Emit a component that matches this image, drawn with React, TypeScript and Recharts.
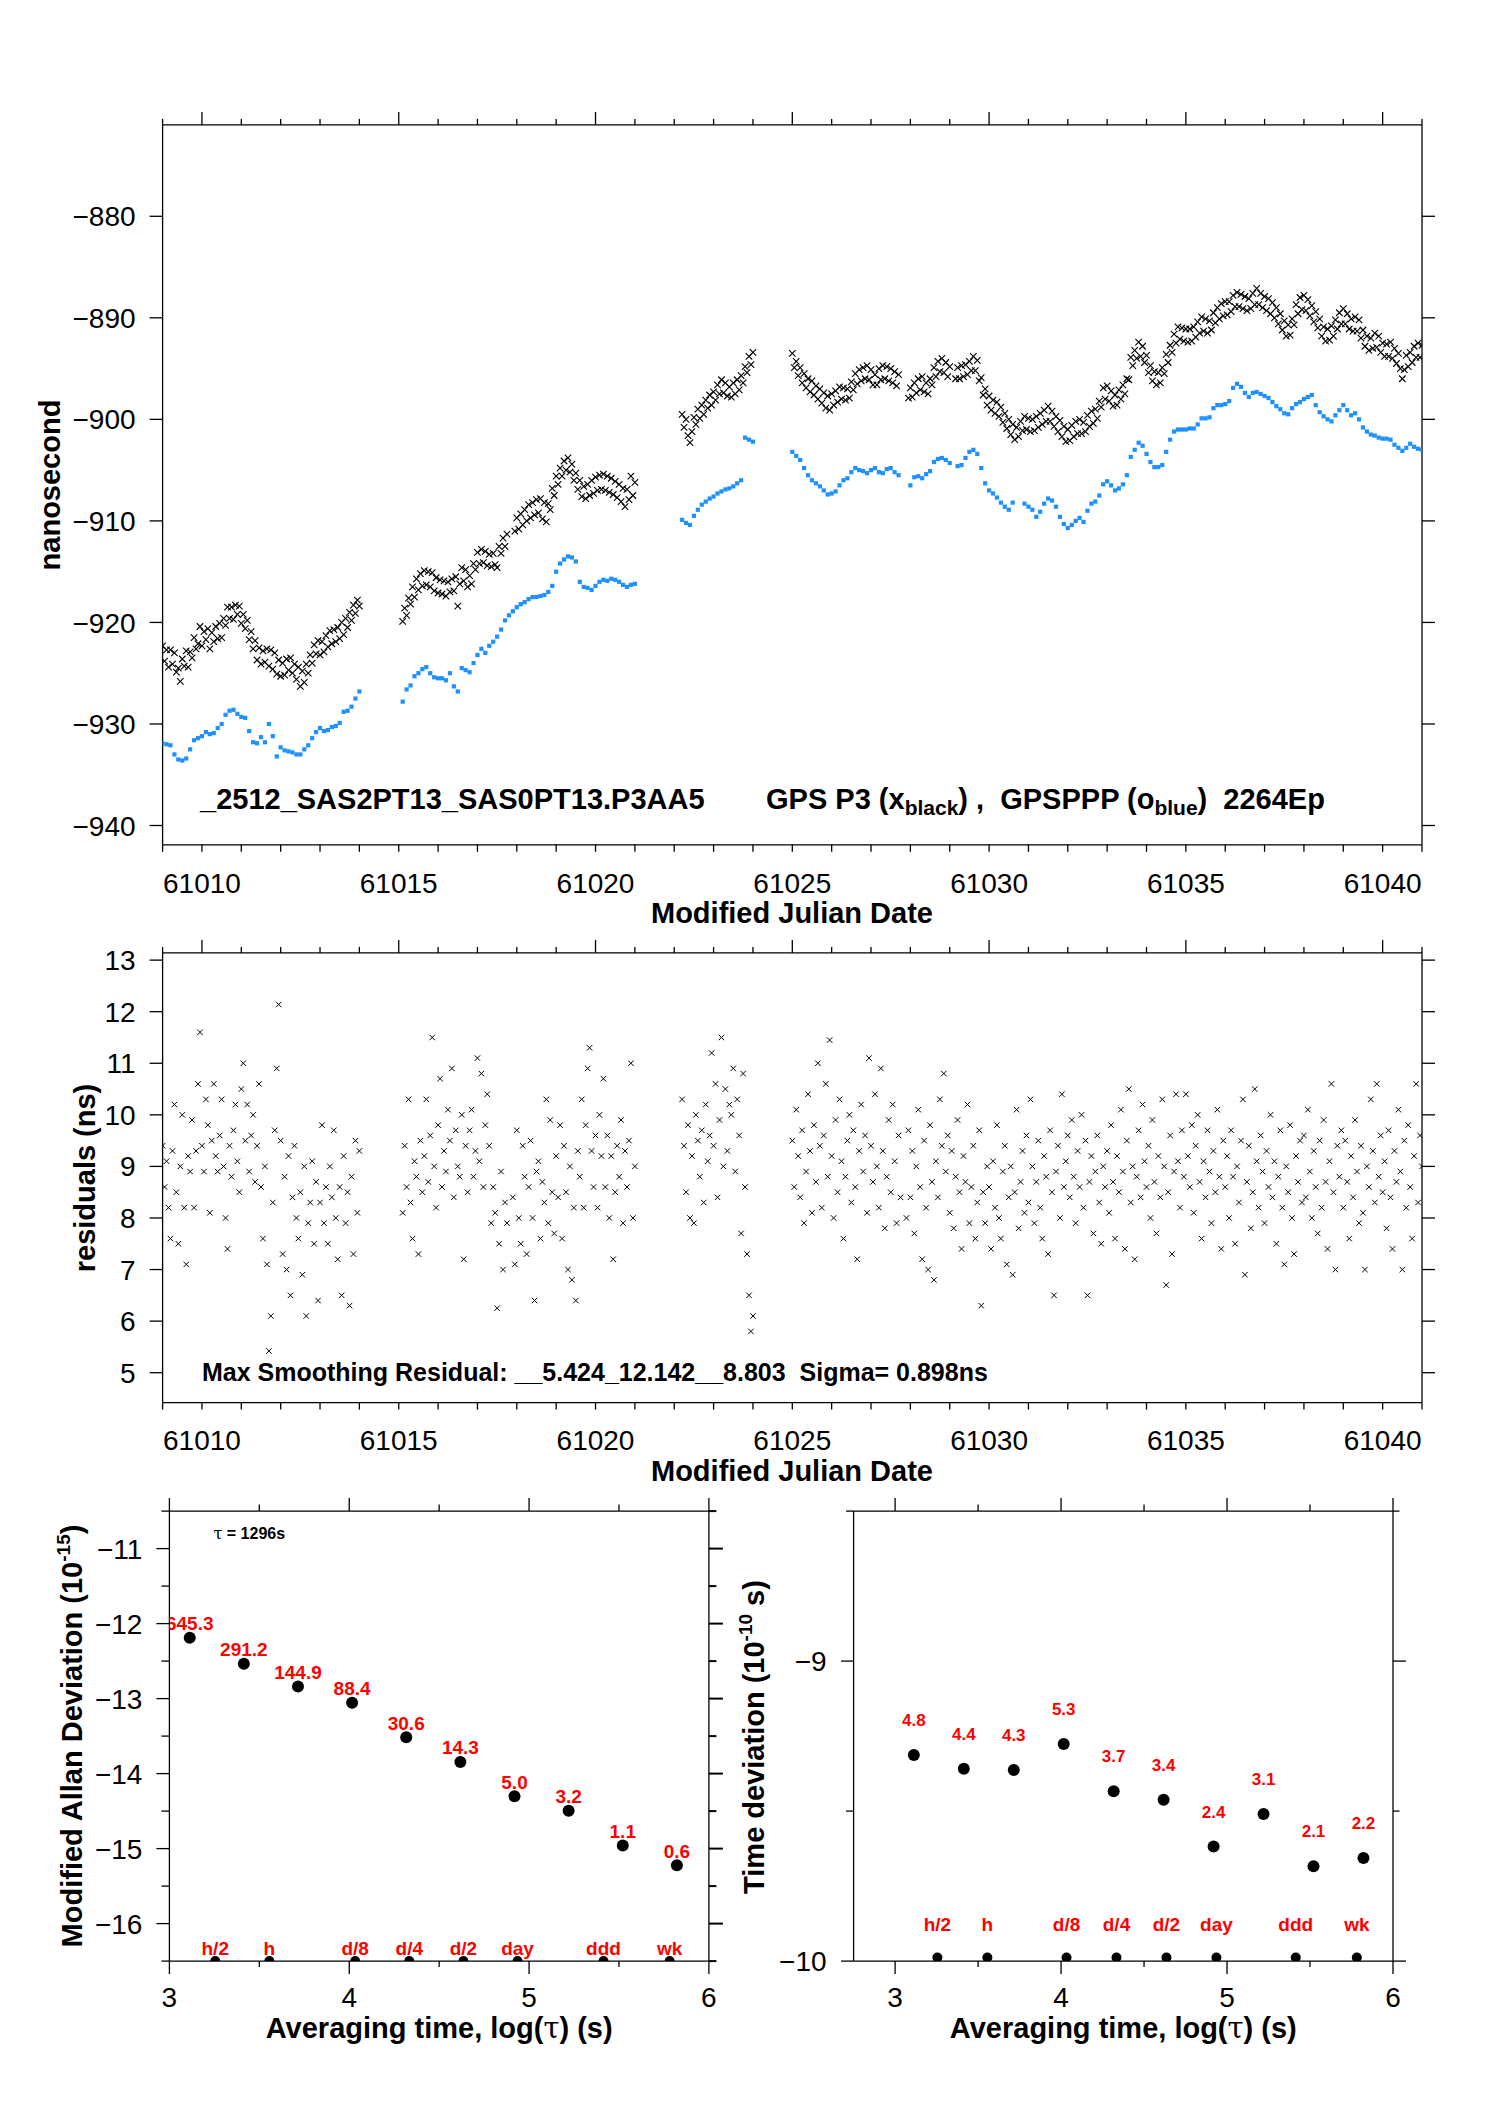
import React from 'react';
import { ScatterChart, Scatter, XAxis, YAxis, Customized } from 'recharts';

const FONT = '"Liberation Sans", Arial, Helvetica, sans-serif';
const MINUS = '\u2212';
const BLUE = '#1e90ff';
const RED = '#ff0000';

// ---------------- axis ticks ----------------
const mjdTicks = [61009,61010,61011,61012,61013,61014,61015,61016,61017,61018,61019,61020,61021,61022,61023,61024,61025,61026,61027,61028,61029,61030,61031,61032,61033,61034,61035,61036,61037,61038,61039,61040,61041];
const mjdMajorTicks = [61010,61015,61020,61025,61030,61035,61040];
const nsTicks = [-940,-930,-920,-910,-900,-890,-880];
const residTicks = [5,6,7,8,9,10,11,12,13];
const tauTicks = [3,3.5,4,4.5,5,5.5,6];
const tauMajorTicks = [3,4,5,6];
const mdevTicks = [-16.5,-16,-15.5,-15,-14.5,-14,-13.5,-13,-12.5,-12,-11.5,-11,-10.5];
const mdevMajorTicks = [-16,-15,-14,-13,-12,-11];
const tdevTicks = [-10,-9.5,-9,-8.5];
const tdevMajorTicks = [-10,-9];

// ---------------- time series (segments on the sampling grid) ----------------
const segStarts = [61009.0, 61015.1, 61022.2, 61025.0];
const blueStep = 0.1;
const blueA = [-931.9,-932.0,-932.1,-933.0,-933.5,-933.6,-933.4,-932.5,-931.6,-931.4,
-931.2,-930.8,-931.0,-930.9,-930.4,-930.0,-929.1,-928.7,-928.6,-929.0,
-929.3,-929.4,-930.7,-931.8,-931.9,-931.3,-931.8,-930.0,-931.2,-933.2,
-932.3,-932.6,-932.7,-932.8,-933.0,-933.0,-932.5,-932.1,-931.4,-930.8,
-930.4,-930.7,-930.6,-930.3,-930.2,-929.9,-928.8,-928.7,-928.3,-927.5,
-926.8];
const blueB = [-927.8,-926.6,-926.2,-925.3,-925.0,-924.6,-924.4,-925.0,-925.4,
-925.5,-925.5,-925.7,-925.0,-926.3,-926.8,-924.5,-924.7,-924.9,-924.0,
-923.2,-922.6,-923.0,-922.3,-921.9,-921.4,-920.7,-919.8,-919.3,-918.9,
-918.5,-918.2,-918.0,-917.7,-917.5,-917.5,-917.4,-917.3,-917.0,-916.4,
-915.0,-914.2,-913.8,-913.5,-913.6,-914.0,-916.0,-916.5,-916.6,-916.8,
-916.4,-916.0,-915.8,-915.9,-915.7,-915.8,-916.0,-916.3,-916.5,-916.3,
-916.2];
const blueC = [-909.9,-910.2,-910.4,-909.5,-908.9,-908.4,-908.1,-907.8,-907.6,-907.3,-907.1,-906.9,-906.8,-906.6,-906.3,-906.0,-901.8,-902.0,-902.2];
const blueD = [-903.2,-903.6,-904.0,-904.8,-905.5,-906.0,-906.3,-906.6,-907.0,-907.4,
-907.3,-907.1,-906.5,-906.0,-905.8,-905.2,-904.8,-905.0,-905.1,-905.3,
-905.0,-904.8,-905.2,-905.3,-904.9,-904.8,-905.2,-905.5,null,null,
-906.5,-905.7,-905.6,-905.8,-905.4,-905.1,-904.2,-903.9,-903.8,-904.0,
-904.3,null,-904.6,-904.5,-903.8,-903.2,-903.0,-903.4,-904.8,-906.3,
-907.0,-907.3,-907.7,-908.2,-908.6,-908.9,-908.2,null,null,-908.3,
-908.6,-908.9,-909.6,-909.1,-908.3,-907.8,-908.0,-908.6,-909.6,-910.3,
-910.7,-910.4,-910.0,-909.7,-910.1,-909.0,-908.3,-908.1,-907.5,-906.4,
-906.1,-906.5,-907.0,-906.8,-906.4,-905.5,-903.7,-903.0,-902.3,-902.6,
-903.4,-904.2,-904.7,-904.7,-904.5,-903.2,-902.0,-901.2,-901.0,-901.0,
-901.0,-900.9,-900.9,-900.5,-899.9,-899.9,-899.8,-898.9,-898.6,-898.6,
-898.5,-898.2,-896.9,-896.5,-896.8,-897.4,-897.8,-897.4,-897.3,-897.5,
-897.7,-897.9,-898.3,-898.7,-899.0,-899.4,-899.5,-898.9,-898.5,-898.3,
-898.0,-897.8,-897.6,-898.6,-899.3,-899.7,-900.0,-900.2,-899.6,-899.1,
-898.6,-899.1,-899.6,-899.4,-900.0,-900.8,-901.2,-901.5,-901.6,-901.8,
-901.9,-901.9,-902.0,-902.5,-902.8,-903.1,-902.8,-902.4,-902.7,-902.9,
-903.0];

const blackStep = 0.05;
const blackA = [-922.3,-923.8,-922.7,-924.4,-922.7,-924.1,-923.0,-924.9,-924.5,-925.8,
-923.6,-924.3,-922.8,-924.4,-922.9,-923.5,-921.5,-922.6,-922.1,-920.4,
-922.3,-920.9,-921.7,-920.6,-922.6,-921.0,-921.9,-920.4,-921.6,-920.1,
-921.5,-919.6,-920.3,-918.5,-919.6,-918.5,-919.7,-918.3,-919.2,-918.4,
-920.1,-919.2,-920.6,-919.8,-921.7,-920.9,-922.6,-921.8,-923.7,-922.5,
-924.1,-922.8,-923.9,-922.6,-924.3,-922.7,-924.6,-923.0,-925.1,-923.7,
-925.3,-924.0,-925.2,-923.6,-924.7,-923.5,-925.0,-924.1,-925.6,-924.4,
-926.3,-924.8,-925.9,-924.1,-925.0,-923.2,-924.0,-922.2,-923.1,-921.8,
-923.2,-921.9,-922.9,-921.3,-922.4,-920.8,-922.1,-920.7,-921.9,-920.5,
-921.6,-920.0,-921.2,-919.6,-920.5,-919.0,-919.8,-918.3,-919.1,-917.8,
-918.4];
const blackB = [-919.9,-918.6,-919.3,-917.6,-918.2,-916.5,-917.5,-915.7,-916.8,-915.2,
-916.4,-914.9,-916.3,-915.0,-916.5,-915.1,-916.9,-915.6,-917.1,-915.8,
-917.2,-915.9,-917.4,-916.0,-917.0,-915.7,-916.9,-915.5,-918.4,-916.2,
-914.6,-915.9,-914.8,-916.5,-915.4,-916.2,-914.2,-914.8,-913.1,-914.2,
-912.8,-914.1,-913.0,-914.4,-913.3,-914.5,-913.2,-914.3,-914.6,-912.5,
-913.2,-911.7,-912.5,-911.3,null,null,null,-911.0,-909.7,-910.8,
-909.3,-910.4,-908.9,-910.0,-908.4,-909.7,-908.2,-909.4,-907.9,-909.2,
-907.8,-909.8,-908.2,-910.1,-908.3,-908.9,-906.8,-907.5,-905.6,-906.4,
-904.8,-905.6,-904.1,-905.0,-903.8,-905.2,-904.4,-906.0,-905.3,-906.9,
-906.0,-907.6,-906.6,-907.8,-906.4,-907.5,-906.0,-907.3,-905.7,-907.0,
-905.5,-906.9,-905.4,-907.0,-905.6,-907.2,-905.8,-907.4,-906.1,-907.7,
-906.4,-908.1,-906.8,-908.6,-906.9,-907.9,-905.6,-907.5,-906.2];
const blackC = [-899.5,-900.8,-900.0,-901.6,-902.3,-901.2,-899.8,-900.5,-899.0,-899.9,
-898.6,-899.5,-898.1,-898.9,-897.6,-898.6,-897.3,-898.1,-896.6,-897.5,
-896.1,-897.4,-896.4,-897.7,-896.8,-897.8,-896.4,-897.5,-896.1,-897.1,
-895.7,-896.4,-894.8,-895.4,-893.8,-894.6,-893.4];
const blackD = [-893.5,-894.9,-894.3,-895.7,-894.9,-896.4,-895.5,-896.9,-896.0,-897.3,
-896.2,-897.6,-896.7,-898.0,-897.0,-898.4,-897.4,-898.9,-897.7,-899.1,
-897.5,-898.6,-897.2,-898.3,-896.8,-898.0,-896.9,-898.1,-897.0,-897.9,
-896.3,-897.1,-895.5,-896.5,-895.1,-896.2,-894.9,-896.0,-894.7,-896.1,
-895.1,-896.6,-895.6,-896.6,-895.0,-896.1,-894.7,-896.0,-894.8,-896.2,
-895.0,-896.4,-895.3,-896.7,-895.6,null,null,null,null,-897.9,
-896.9,-897.8,-896.4,-897.4,-896.0,-897.1,-895.8,-897.3,-896.4,-897.5,
-896.0,-896.6,-894.9,-895.8,-894.3,-895.3,-894.0,-895.4,-894.4,-895.8,
-894.8,null,null,-896.0,-894.9,-896.0,-894.7,-895.8,-894.6,-895.6,
-894.3,-895.2,-893.8,-895.2,-894.2,-896.2,-895.9,-897.6,-897.0,-898.6,
-897.7,-899.1,-898.1,-899.4,-898.3,-899.7,-898.8,-900.3,-899.4,-900.9,
-900.0,-901.5,-900.5,-902.0,-900.8,-901.7,-900.2,-901.1,-899.7,-901.0,
-899.9,-901.2,-900.0,-901.1,-899.7,-900.8,-899.4,-900.5,-899.1,-900.2,
-898.7,-900.2,-899.2,-900.7,-899.7,-901.2,-900.1,-901.7,-900.7,-902.2,
-901.0,-902.1,-900.6,-901.7,-900.2,-901.4,-900.0,-901.4,-900.3,-901.2,
-899.6,-900.7,-899.2,-900.4,-899.0,-899.9,-898.2,-898.8,-896.9,-898.0,
-896.7,-898.2,-897.2,-898.7,-897.6,-898.6,-897.1,-898.0,-896.6,-897.5,
-896.0,-896.1,-893.9,-894.7,-893.2,-894.0,-892.4,-893.8,-892.8,-894.4,
-893.7,-895.4,-894.7,-896.2,-895.3,-896.6,-895.4,-896.4,-894.9,-895.5,
-893.6,-894.4,-892.7,-893.4,-891.6,-892.5,-890.9,-892.1,-891.0,-892.3,
-891.1,-892.4,-891.1,-892.3,-890.9,-891.9,-890.4,-891.5,-889.9,-891.3,
-890.1,-891.5,-890.3,-891.2,-889.5,-890.5,-889.0,-890.1,-888.6,-889.8,
-888.4,-889.7,-888.4,-889.4,-887.8,-888.9,-887.5,-888.9,-887.7,-889.1,
-887.9,-889.3,-888.1,-889.1,-887.6,-888.7,-887.1,-888.7,-887.6,-889.0,
-887.9,-889.3,-888.1,-889.6,-888.5,-890.0,-889.0,-890.6,-889.6,-891.2,
-890.3,-891.8,-890.7,-891.7,-890.1,-890.7,-888.7,-889.6,-888.0,-889.2,
-887.8,-889.3,-888.2,-889.8,-888.8,-890.4,-889.4,-891.0,-890.1,-891.8,
-890.9,-892.3,-891.1,-892.2,-890.8,-891.8,-890.2,-891.1,-889.5,-890.6,
-889.1,-890.6,-889.6,-891.1,-890.1,-891.3,-889.9,-891.3,-890.2,-892.0,
-891.2,-892.8,-891.8,-893.2,-892.0,-893.0,-891.5,-892.9,-891.8,-893.4,
-892.5,-893.8,-892.6,-893.8,-892.4,-894.0,-893.0,-894.5,-893.5,-895.0,
-896.0,-895.1,-893.7,-894.8,-893.4,-894.4,-892.8,-893.9,-892.5,-893.9,
-892.7];

const residStep = 0.05;
const residA = [9.4,8.6,9.1,8.2,7.6,9.3,10.2,8.5,7.5,9.0,
10.0,8.2,7.1,9.2,8.9,9.9,8.2,9.3,10.6,11.6,
9.4,8.9,10.3,9.8,8.1,9.5,10.6,9.2,8.9,9.6,
10.3,9.0,8.0,7.4,9.4,8.8,9.7,10.2,9.1,8.5,
10.5,11.0,9.5,10.2,8.9,9.6,10.0,8.7,9.4,10.6,
8.6,7.6,9.0,7.1,5.42,6.1,8.3,9.7,10.9,12.14,
9.5,7.3,8.8,7.0,9.2,6.5,8.4,9.4,8.0,7.6,
8.5,6.9,9.0,6.1,7.9,8.3,9.1,7.5,8.7,6.4,
8.3,9.8,7.9,8.6,7.5,9.0,8.4,9.7,8.0,7.2,
8.6,6.5,9.2,7.9,8.5,6.3,8.8,7.3,9.5,8.1,
9.3];
const residB = [8.1,9.4,8.6,10.3,8.3,7.6,9.1,8.8,7.3,9.5,
8.5,9.2,10.3,8.7,9.6,11.5,9.0,8.2,9.8,10.7,
8.6,9.3,8.9,10.1,9.5,10.9,8.4,9.7,9.0,8.8,
10.0,7.2,9.4,8.5,9.7,10.1,8.8,9.3,11.1,9.1,
10.8,8.6,9.8,10.4,9.4,7.9,8.6,8.1,6.25,7.5,
8.9,7.0,8.3,7.9,null,null,8.4,7.1,9.7,8.0,
7.5,9.4,8.8,7.3,8.6,9.5,8.0,6.4,8.9,9.1,
7.6,8.7,8.3,10.3,7.9,9.9,8.5,7.7,9.2,8.4,
9.8,7.6,9.4,8.5,7.0,9.0,6.8,8.2,6.4,9.3,
8.8,10.3,8.2,9.8,10.9,11.3,9.3,8.6,9.6,8.2,
10.0,9.2,10.7,8.6,9.6,8.0,9.2,7.2,8.5,9.4,
8.8,9.9,7.9,9.3,8.6,9.5,11.0,8.0,9.0];
const residC = [10.3,9.4,8.5,9.8,8.0,9.2,7.9,10.0,9.5,8.8,
9.7,8.3,10.2,9.1,9.6,11.2,9.4,10.6,8.4,9.9,
11.5,9.0,10.5,9.3,10.2,10.0,10.9,8.9,10.3,9.6,
7.7,10.8,8.6,7.3,6.5,5.8,6.1];
const residD = [9.5,8.6,10.1,9.2,8.4,9.7,7.9,8.9,10.4,9.3,8.1,9.8,8.7,11.0,9.4,8.2,9.6,10.6,8.8,11.45,
9.2,8.0,9.9,8.5,10.3,9.1,7.6,8.8,9.5,10.0,8.3,9.7,8.6,7.2,9.3,10.2,8.9,9.6,8.1,11.1,
9.4,8.7,10.4,9.0,8.2,10.9,9.3,7.8,8.8,9.9,8.5,10.2,9.1,7.9,9.6,8.4,null,null,8.0,9.7,
8.4,9.3,7.7,9.0,10.1,8.6,7.2,9.5,8.2,7.0,9.8,8.7,6.8,9.1,8.4,10.3,9.4,10.8,8.9,9.6,
8.1,9.3,7.8,8.8,9.9,8.5,7.4,9.2,8.7,10.2,7.9,8.6,9.4,7.6,8.3,9.7,6.3,8.5,7.9,9.0,
8.6,7.4,9.1,8.2,9.8,8.0,7.6,8.9,9.4,7.1,8.4,9.0,6.9,8.5,10.1,7.8,8.7,9.3,8.1,9.6,
8.3,10.3,9.0,7.9,8.7,9.5,8.2,7.6,9.2,8.8,7.3,9.7,8.5,6.5,8.9,9.4,8.0,10.4,8.6,9.1,
9.6,8.4,9.9,8.8,7.9,9.3,8.6,10.0,8.2,9.5,6.5,8.7,9.2,7.7,8.9,9.6,8.3,7.5,9.0,8.6,
9.3,8.1,9.8,8.7,7.6,9.2,8.5,10.1,8.9,7.4,9.5,10.5,8.3,9.0,7.2,8.8,9.7,8.4,10.2,9.1,
8.6,9.4,8.0,9.9,8.7,7.7,9.2,8.4,10.3,9.0,6.7,8.5,9.6,7.3,8.9,10.4,9.1,8.2,9.7,8.8,
10.4,9.2,8.6,9.8,8.1,9.4,10.0,8.7,7.6,9.1,8.4,9.7,8.9,7.9,9.3,8.5,10.1,8.8,7.4,9.5,
8.6,9.2,8.0,9.7,8.8,7.5,9.0,8.3,9.5,10.3,6.9,8.7,9.4,7.8,8.5,10.5,9.1,8.2,9.6,8.9,
7.9,9.3,8.6,10.0,8.4,9.1,7.5,8.8,9.7,8.2,7.1,9.0,8.5,9.8,8.0,7.3,9.2,8.7,9.5,8.3,
9.6,8.4,10.1,8.9,8.0,9.3,8.6,7.7,9.5,8.2,9.9,8.7,7.4,9.1,10.6,8.5,7.0,9.4,8.8,9.7,
8.2,9.5,8.7,7.6,9.2,8.4,9.9,8.9,7.9,9.4,8.1,7.0,9.0,8.6,10.3,9.3,8.3,10.6,8.8,9.6,
8.5,9.1,7.8,9.7,8.4,7.4,9.3,8.7,10.1,8.9,7.0,9.5,8.2,9.8,8.6,7.6,9.2,10.6,8.3,9.6,
9.0];

// ---------------- stability data ----------------
const tauLog = [3.113, 3.414, 3.715, 4.016, 4.317, 4.618, 4.919, 5.220, 5.521, 5.822];
const mdevLog = [-12.19, -12.536, -12.839, -13.054, -13.514, -13.845, -14.301, -14.495, -14.959, -15.222];
const mdevLabels = ['645.3', '291.2', '144.9', '88.4', '30.6', '14.3', '5.0', '3.2', '1.1', '0.6'];
const tdevLog = [-9.313, -9.359, -9.363, -9.276, -9.434, -9.462, -9.618, -9.51, -9.684, -9.656];
const tdevLabels = ['4.8', '4.4', '4.3', '5.3', '3.7', '3.4', '2.4', '3.1', '2.1', '2.2'];
const markerLog = [3.255, 3.556, 4.033, 4.334, 4.635, 4.936, 5.414, 5.782];
const markerNames = ['h/2', 'h', 'd/8', 'd/4', 'd/2', 'day', 'ddd', 'wk'];
const mdevMarkerLevel = -16.5;
const tdevMarkerLevel = -9.988;

// ---------------- helpers ----------------
type Pt = { x: number; y: number; label?: string };
function buildSeries(starts: number[], step: number, segs: (number | null)[][]): Pt[] {
  const out: Pt[] = [];
  segs.forEach((vals, s) => {
    vals.forEach((v, i) => {
      if (v !== null) out.push({ x: Math.round((starts[s] + i * step) * 1000) / 1000, y: v });
    });
  });
  return out;
}
const bluePts = buildSeries(segStarts, blueStep, [blueA, blueB, blueC, blueD]);
const blackPts = buildSeries(segStarts, blackStep, [blackA, blackB, blackC, blackD]);
const residPts = buildSeries(segStarts, residStep, [residA, residB, residC, residD]);
const mdevPts: Pt[] = tauLog.map((x, i) => ({ x, y: mdevLog[i], label: mdevLabels[i] }));
const tdevPts: Pt[] = tauLog.map((x, i) => ({ x, y: tdevLog[i], label: tdevLabels[i] }));
const mdevMarkers: Pt[] = markerLog.map((x, i) => ({ x, y: mdevMarkerLevel, label: markerNames[i] }));
const tdevMarkers: Pt[] = markerLog.map((x, i) => ({ x, y: tdevMarkerLevel, label: markerNames[i] }));

const fmtNum = (v: number) => (v < 0 ? MINUS + String(Math.abs(v)) : String(v));

type TickOpts = {
  side: 'top' | 'bottom' | 'left' | 'right';
  majors: number[];
  majorLen: number;
  minorLen: number;
  label?: boolean;
  gap?: number;
  fontSize?: number;
  sw?: number;
};
const makeTick = (o: TickOpts) => (props: any) => {
  const { x, y, payload } = props;
  const v = payload.value as number;
  const major = o.majors.some((m) => Math.abs(m - v) < 1e-9);
  const len = major ? o.majorLen : o.minorLen;
  const sw = o.sw ?? 1.3;
  const fs = o.fontSize ?? 28;
  const gap = o.gap ?? 0;
  let line: React.ReactNode = null;
  let text: React.ReactNode = null;
  if (o.side === 'bottom') {
    line = <line x1={x} y1={y} x2={x} y2={y + len} stroke="#000" strokeWidth={sw} />;
    if (o.label && major)
      text = <text x={x} y={y + gap} textAnchor="middle" fontFamily={FONT} fontSize={fs} fill="#000">{fmtNum(v)}</text>;
  } else if (o.side === 'top') {
    line = <line x1={x} y1={y} x2={x} y2={y - len} stroke="#000" strokeWidth={sw} />;
  } else if (o.side === 'left') {
    line = <line x1={x} y1={y} x2={x - len} y2={y} stroke="#000" strokeWidth={sw} />;
    if (o.label && major)
      text = <text x={x - gap} y={y + fs * 0.36} textAnchor="end" fontFamily={FONT} fontSize={fs} fill="#000">{fmtNum(v)}</text>;
  } else {
    line = <line x1={x} y1={y} x2={x + len} y2={y} stroke="#000" strokeWidth={sw} />;
  }
  return <g>{line}{text}</g>;
};

const XMark = (size: number, sw: number) => (p: any) => {
  const { cx, cy } = p;
  if (cx == null || cy == null) return <g />;
  const h = size / 2;
  return <path d={`M${cx - h},${cy - h}L${cx + h},${cy + h}M${cx - h},${cy + h}L${cx + h},${cy - h}`} stroke="#000" strokeWidth={sw} fill="none" />;
};
const BlueDot = (p: any) => {
  const { cx, cy } = p;
  if (cx == null || cy == null) return <g />;
  return <rect x={cx - 2.1} y={cy - 2.1} width={4.2} height={4.2} fill={BLUE} />;
};
const LabeledDot = (r: number, labelDy: number, fs: number) => (p: any) => {
  const { cx, cy, payload } = p;
  if (cx == null || cy == null) return <g />;
  return (
    <g>
      <circle cx={cx} cy={cy} r={r} fill="#000" />
      <text x={cx} y={cy - labelDy} textAnchor="middle" fontFamily={FONT} fontWeight={700} fontSize={fs} fill={RED}>{payload.label}</text>
    </g>
  );
};

const axisCommon = { type: 'number' as const, allowDataOverflow: true, interval: 0 as const, tickSize: 0, tickMargin: 0, tickLine: false, stroke: '#000', axisLine: { stroke: '#000', strokeWidth: 1.3 } };

const boldText = { fontFamily: FONT, fontWeight: 700, fill: '#000' } as const;

// ---------------- panels ----------------
function TopPanel() {
  return (
    <ScatterChart width={1488} height={940} margin={{ top: 0, right: 0, bottom: 0, left: 0 }}>
      <XAxis {...axisCommon} xAxisId="b" orientation="bottom" dataKey="x" domain={[61009, 61041]} ticks={mjdTicks} height={95.2}
        tick={makeTick({ side: 'bottom', majors: mjdMajorTicks, majorLen: 7, minorLen: 7, label: true, gap: 48 })} />
      <XAxis {...axisCommon} xAxisId="t" orientation="top" dataKey="x" domain={[61009, 61041]} ticks={mjdTicks} height={124.9}
        tick={makeTick({ side: 'top', majors: mjdMajorTicks, majorLen: 13, minorLen: 6 })} />
      <YAxis {...axisCommon} yAxisId="l" orientation="left" dataKey="y" domain={[-941.9, -871]} ticks={nsTicks} width={162.6}
        tick={makeTick({ side: 'left', majors: nsTicks, majorLen: 13, minorLen: 13, label: true, gap: 27 })} />
      <YAxis {...axisCommon} yAxisId="r" orientation="right" dataKey="y" domain={[-941.9, -871]} ticks={nsTicks} width={66}
        tick={makeTick({ side: 'right', majors: nsTicks, majorLen: 13, minorLen: 13 })} />
      <Scatter xAxisId="b" yAxisId="l" data={bluePts} shape={BlueDot} isAnimationActive={false} />
      <Scatter xAxisId="b" yAxisId="l" data={blackPts} shape={XMark(6.5, 1.1)} isAnimationActive={false} />
      <Customized component={() => (
        <g>
          <text transform="translate(60,485) rotate(-90)" textAnchor="middle" fontSize={29} {...boldText}>nanosecond</text>
          <text x={200} y={809} fontSize={29} {...boldText}>_2512_SAS2PT13_SAS0PT13.P3AA5</text>
          <text x={766} y={809} fontSize={29} {...boldText} style={{ whiteSpace: 'pre' }}>
            <tspan>GPS P3 (x</tspan>
            <tspan fontSize={21} dy={6}>black</tspan>
            <tspan dy={-6}>) ,  GPSPPP (o</tspan>
            <tspan fontSize={21} dy={6}>blue</tspan>
            <tspan dy={-6}>)  2264Ep</tspan>
          </text>
          <text x={792} y={923} textAnchor="middle" fontSize={29} {...boldText}>Modified Julian Date</text>
        </g>
      )} />
    </ScatterChart>
  );
}

function ResidPanel() {
  return (
    <ScatterChart width={1488} height={570} margin={{ top: 0, right: 0, bottom: 0, left: 0 }}>
      <XAxis {...axisCommon} xAxisId="b" orientation="bottom" dataKey="x" domain={[61009, 61041]} ticks={mjdTicks} height={97.4}
        tick={makeTick({ side: 'bottom', majors: mjdMajorTicks, majorLen: 7, minorLen: 7, label: true, gap: 47.5 })} />
      <XAxis {...axisCommon} xAxisId="t" orientation="top" dataKey="x" domain={[61009, 61041]} ticks={mjdTicks} height={22.9}
        tick={makeTick({ side: 'top', majors: mjdMajorTicks, majorLen: 13, minorLen: 6 })} />
      <YAxis {...axisCommon} yAxisId="l" orientation="left" dataKey="y" domain={[4.42, 13.14]} ticks={residTicks} width={162.6}
        tick={makeTick({ side: 'left', majors: residTicks, majorLen: 13, minorLen: 13, label: true, gap: 27 })} />
      <YAxis {...axisCommon} yAxisId="r" orientation="right" dataKey="y" domain={[4.42, 13.14]} ticks={residTicks} width={66}
        tick={makeTick({ side: 'right', majors: residTicks, majorLen: 13, minorLen: 13 })} />
      <Scatter xAxisId="b" yAxisId="l" data={residPts} shape={XMark(5.5, 1)} isAnimationActive={false} />
      <Customized component={() => (
        <g>
          <text transform="translate(95,248) rotate(-90)" textAnchor="middle" fontSize={29} {...boldText}>residuals (ns)</text>
          <text x={202} y={450.7} fontSize={25} {...boldText} style={{ whiteSpace: 'pre' }}>Max Smoothing Residual: __5.424_12.142__8.803  Sigma= 0.898ns</text>
          <text x={792} y={551} textAnchor="middle" fontSize={29} {...boldText}>Modified Julian Date</text>
        </g>
      )} />
    </ScatterChart>
  );
}

function XLabel({ x, y }: { x: number; y: number }) {
  return (
    <text x={x} y={y} textAnchor="middle" fontSize={29} {...boldText}>
      Averaging time, log(<tspan fontFamily='"DejaVu Serif", serif' fontWeight={400}>τ</tspan>) (s)
    </text>
  );
}

function MdevPanel() {
  return (
    <ScatterChart width={744} height={625} margin={{ top: 0, right: 0, bottom: 0, left: 0 }}>
      <XAxis {...axisCommon} xAxisId="b" orientation="bottom" dataKey="x" domain={[3, 6]} ticks={tauTicks} height={143.9}
        tick={makeTick({ side: 'bottom', majors: tauMajorTicks, majorLen: 13, minorLen: 6, label: true, gap: 46 })} />
      <XAxis {...axisCommon} xAxisId="t" orientation="top" dataKey="x" domain={[3, 6]} ticks={tauTicks} height={31.1}
        tick={makeTick({ side: 'top', majors: tauMajorTicks, majorLen: 13, minorLen: 6.5 })} />
      <YAxis {...axisCommon} yAxisId="l" orientation="left" dataKey="y" domain={[-16.5, -10.5]} ticks={mdevTicks} width={169.4}
        tick={makeTick({ side: 'left', majors: mdevMajorTicks, majorLen: 13, minorLen: 8, label: true, gap: 27 })} />
      <YAxis {...axisCommon} yAxisId="r" orientation="right" dataKey="y" domain={[-16.5, -10.5]} ticks={mdevTicks} width={35.1}
        tick={makeTick({ side: 'right', majors: mdevMajorTicks, majorLen: 14, minorLen: 7.5, sw: 2 })} />
      <Scatter xAxisId="b" yAxisId="l" data={mdevPts} shape={LabeledDot(6, 7.5, 19)} isAnimationActive={false} />
      <Scatter xAxisId="b" yAxisId="l" data={mdevMarkers} shape={LabeledDot(5, 6.5, 19)} isAnimationActive={false} />
      <Customized component={() => (
        <g>
          <text transform="translate(82,256) rotate(-90)" textAnchor="middle" fontSize={29} {...boldText}>
            Modified Allan Deviation (10<tspan fontSize={19} dy={-12}>-15</tspan><tspan dy={12}>)</tspan>
          </text>
          <text x={213.5} y={59} fontSize={16} {...boldText}>
            <tspan fontFamily='"DejaVu Serif", serif' fontWeight={400}>τ</tspan> = 1296s
          </text>
          <XLabel x={439.2} y={558} />
        </g>
      )} />
    </ScatterChart>
  );
}

function TdevPanel() {
  return (
    <ScatterChart width={784} height={625} margin={{ top: 0, right: 0, bottom: 0, left: 0 }}>
      <XAxis {...axisCommon} xAxisId="b" orientation="bottom" dataKey="x" domain={[2.75, 6]} ticks={tauTicks} height={143.9}
        tick={makeTick({ side: 'bottom', majors: tauMajorTicks, majorLen: 13, minorLen: 6, label: true, gap: 46 })} />
      <XAxis {...axisCommon} xAxisId="t" orientation="top" dataKey="x" domain={[2.75, 6]} ticks={tauTicks} height={31.1}
        tick={makeTick({ side: 'top', majors: tauMajorTicks, majorLen: 13, minorLen: 6.5 })} />
      <YAxis {...axisCommon} yAxisId="l" orientation="left" dataKey="y" domain={[-10, -8.5]} ticks={tdevTicks} width={149.6}
        tick={makeTick({ side: 'left', majors: tdevMajorTicks, majorLen: 12.5, minorLen: 7.5, label: true, gap: 27 })} />
      <YAxis {...axisCommon} yAxisId="r" orientation="right" dataKey="y" domain={[-10, -8.5]} ticks={tdevTicks} width={95}
        tick={makeTick({ side: 'right', majors: tdevMajorTicks, majorLen: 13, minorLen: 6.5 })} />
      <Scatter xAxisId="b" yAxisId="l" data={tdevPts} shape={LabeledDot(6, 29, 17)} isAnimationActive={false} />
      <Scatter xAxisId="b" yAxisId="l" data={tdevMarkers} shape={LabeledDot(5, 27, 19)} isAnimationActive={false} />
      <Customized component={() => (
        <g>
          <text transform="translate(60,257) rotate(-90)" textAnchor="middle" fontSize={29} {...boldText}>
            Time deviation (10<tspan fontSize={19} dy={-12}>-10</tspan><tspan dy={12}> s)</tspan>
          </text>
          <XLabel x={419.3} y={558} />
        </g>
      )} />
    </ScatterChart>
  );
}

export default function App() {
  return (
    <div style={{ position: 'absolute', left: 0, top: 0, width: 1488, height: 2105, background: '#fff', overflow: 'hidden' }}>
      <div style={{ position: 'absolute', left: 0, top: 0 }}><TopPanel /></div>
      <div style={{ position: 'absolute', left: 0, top: 930 }}><ResidPanel /></div>
      <div style={{ position: 'absolute', left: 0, top: 1480 }}><MdevPanel /></div>
      <div style={{ position: 'absolute', left: 704, top: 1480 }}><TdevPanel /></div>
    </div>
  );
}
